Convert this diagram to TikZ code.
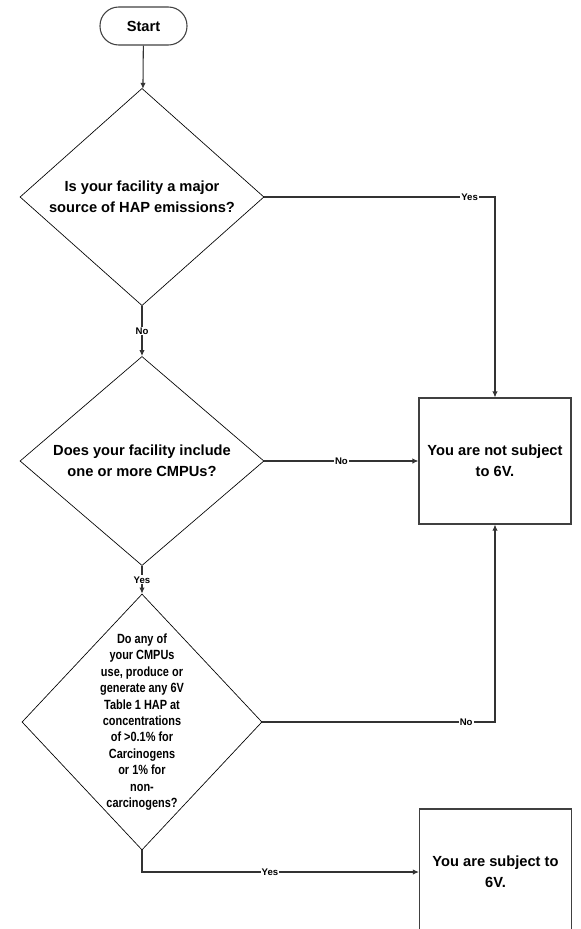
\documentclass[tikz,border=0pt]{standalone}
\usepackage{fontspec}
\setmainfont{Liberation Sans}
\newfontfamily\narrowfont[FakeStretch=0.82]{Liberation Sans}
\usetikzlibrary{shapes.geometric,arrows.meta}

\tikzset{
  inicio/.style={draw=black!75, line width=0.8pt, rounded corners=14pt,
    minimum width=65.25pt, minimum height=28.5pt,
    font=\fontsize{11}{13}\selectfont\bfseries},
  decision/.style={draw, line width=0.5pt, diamond, inner sep=0pt, align=center,
    font=\fontsize{11}{15.5}\selectfont\bfseries},
  caja/.style={draw=black!75, line width=0.8pt, minimum width=114pt,
    minimum height=94.5pt, align=center,
    font=\fontsize{11}{16}\selectfont\bfseries},
  flecha/.style={draw=black!80, line width=0.8pt, -{Latex[length=4.5pt,width=4pt]}},
  etiqueta/.style={fill=white, inner sep=0.8pt,
    font=\fontsize{7.2}{8}\selectfont\bfseries},
}

\begin{document}
\begin{tikzpicture}[x=0.75pt,y=-0.75pt]
    % Marco
    \useasboundingbox (0,0) rectangle (581,929);
    \clip (0,0) rectangle (581,929);

    % Nodos
    \node[inicio] (start) at (143.5,26) {Start};
    \node[decision, minimum width=183pt, minimum height=153pt] (major) at (142,197)
        {Is your facility a major\\source of HAP emissions?};
    \node[decision, minimum width=183pt, minimum height=153.75pt] (cmpu) at (142,461)
        {Does your facility include\\one or more CMPUs?};
    \node[decision, minimum width=180pt, minimum height=192pt] (hap) at (142,722) {};
    \node[font=\narrowfont\fontsize{10}{12.3}\selectfont\bfseries, align=center,
        inner sep=0pt] (haptext) at (hap)
        {Do any of\\your CMPUs\\use, produce or\\generate any 6V\\Table 1 HAP at\\
         concentrations\\of >0.1\% for\\Carcinogens\\or 1\% for\\non-\\carcinogens?};
    \node[caja] (notsub) at (495,461) {You are not subject\\to 6V.};
    \node[caja] (sub) at (495.5,872) {You are subject to\\6V.};

    % Conectores
    \draw[flecha] (start) -- (major);
    \draw[flecha] (major.south) -- node[etiqueta] {No} (cmpu.north);
    \draw[flecha] (cmpu.south) -- node[etiqueta] {Yes} (hap.north);
    \draw[flecha] (major.east) -| node[etiqueta, pos=0.445] {Yes} (notsub.north);
    \draw[flecha] (cmpu.east) -- node[etiqueta] {No} (notsub.west);
    \draw[flecha] (hap.east) -| node[etiqueta, pos=0.438] {No} (notsub.south);
    \draw[flecha] (hap.south) |- node[etiqueta, pos=0.731] {Yes} (sub.west);
\end{tikzpicture}
\end{document}
